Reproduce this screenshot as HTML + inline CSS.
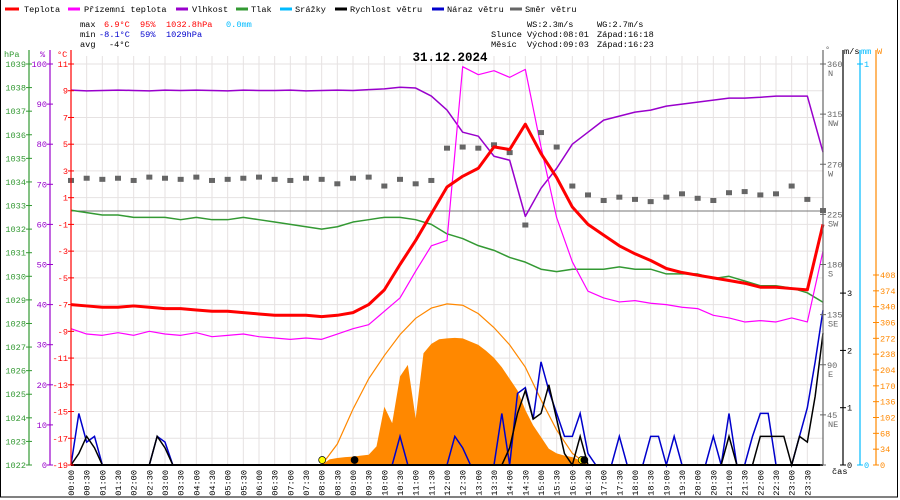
<!DOCTYPE html>
<html><head><meta charset="utf-8"><style>
html,body{margin:0;padding:0;background:#fff}
svg{display:block;font-family:"Liberation Mono",monospace}
</style></head><body>
<svg id="c" width="900" height="500" viewBox="0 0 900 500">
<rect x="0.5" y="-1" width="897" height="498" fill="#fff" stroke="#000"/>
<g id="grid"></g>
<g id="series"></g>
<g id="axes"></g>
<g font-size="8.6">
 <g><line x1="5" y1="9" x2="19" y2="9" stroke="#f00" stroke-width="3"/><text x="24" y="12">Teplota</text></g>
 <g><line x1="68" y1="9" x2="80" y2="9" stroke="#f0f" stroke-width="3"/><text x="84" y="12">Přízemní teplota</text></g>
 <g><line x1="176" y1="9" x2="188" y2="9" stroke="#90c" stroke-width="3"/><text x="192" y="12">Vlhkost</text></g>
 <g><line x1="236" y1="9" x2="248" y2="9" stroke="#393" stroke-width="3"/><text x="251" y="12">Tlak</text></g>
 <g><line x1="280" y1="9" x2="292" y2="9" stroke="#0bf" stroke-width="3"/><text x="295" y="12">Srážky</text></g>
 <g><line x1="335" y1="9" x2="347" y2="9" stroke="#000" stroke-width="3"/><text x="350" y="12">Rychlost větru</text></g>
 <g><line x1="432" y1="9" x2="444" y2="9" stroke="#00c" stroke-width="3"/><text x="447" y="12">Náraz větru</text></g>
 <g><line x1="510" y1="9" x2="522" y2="9" stroke="#666" stroke-width="3"/><text x="525" y="12">Směr větru</text></g>
</g>
<g font-size="8.6">
 <text x="80" y="27">max</text><text x="104" y="27" fill="#f00">6.9°C</text><text x="140" y="27" fill="#f00">95%</text><text x="166" y="27" fill="#f00">1032.8hPa</text><text x="226" y="27" fill="#0bf">0.0mm</text>
 <text x="80" y="37">min</text><text x="99" y="37" fill="#00c">-8.1°C</text><text x="140" y="37" fill="#00c">59%</text><text x="166" y="37" fill="#00c">1029hPa</text>
 <text x="80" y="47">avg</text><text x="109" y="47">-4°C</text>
 <text x="527" y="27">WS:2.3m/s</text><text x="597" y="27">WG:2.7m/s</text>
 <text x="491" y="37">Slunce</text><text x="527" y="37">Východ:08:01</text><text x="597" y="37">Západ:16:18</text>
 <text x="491" y="47">Měsíc</text><text x="527" y="47">Východ:09:03</text><text x="597" y="47">Západ:16:23</text>
</g>
<text x="450" y="61" font-size="12.5" font-weight="bold" text-anchor="middle">31.12.2024</text>
</svg>
<script>
// ---- data ----
const temp=[-7.0,-7.1,-7.2,-7.2,-7.1,-7.2,-7.3,-7.3,-7.4,-7.5,-7.5,-7.6,-7.7,-7.8,-7.8,-7.8,-7.9,-7.8,-7.6,-7.0,-5.9,-4.0,-2.2,-0.2,1.8,2.6,3.2,4.8,4.6,6.5,4.3,2.5,0.3,-1.0,-1.8,-2.6,-3.2,-3.7,-4.3,-4.6,-4.8,-5.0,-5.2,-5.4,-5.7,-5.7,-5.8,-5.9,-1.0];
const feel=[-8.8,-9.2,-9.3,-9.1,-9.3,-9.0,-9.2,-9.3,-9.1,-9.4,-9.3,-9.2,-9.4,-9.5,-9.6,-9.5,-9.6,-9.2,-8.8,-8.5,-7.5,-6.5,-4.5,-2.6,-2.2,10.8,10.2,10.5,10.0,10.6,4.8,-0.5,-3.8,-6.0,-6.5,-6.8,-6.7,-6.9,-7.0,-7.2,-7.3,-7.8,-8.0,-8.3,-8.2,-8.3,-8.0,-8.3,-3.0];
const humid=[93.5,93.3,93.4,93.5,93.4,93.3,93.5,93.4,93.5,93.4,93.3,93.5,93.4,93.4,93.5,93.3,93.4,93.5,93.4,93.6,93.8,94.2,94.0,92,88.5,83,82,77,76,62,69,74,80,83,86,87,88,88.5,89.5,90,90.5,91,91.5,91.5,91.7,92,92,92,78];
const press=[1032.8,1032.7,1032.6,1032.6,1032.5,1032.5,1032.5,1032.4,1032.5,1032.4,1032.4,1032.5,1032.4,1032.3,1032.2,1032.1,1032.0,1032.1,1032.3,1032.4,1032.5,1032.5,1032.4,1032.2,1031.8,1031.6,1031.3,1031.1,1030.8,1030.6,1030.3,1030.2,1030.3,1030.3,1030.3,1030.4,1030.3,1030.3,1030.1,1030.1,1030.1,1029.9,1030.0,1029.8,1029.6,1029.6,1029.5,1029.3,1028.9];
const windDir=[255,257,256,257,255,258,257,256,258,255,256,257,258,256,255,257,256,252,257,258,250,256,252,255,284,285,284,287,280,215,298,285,250,242,237,240,238,236,240,243,239,237,244,245,242,243,250,238,228];
const gust=[0,0.9,0.4,0.5,0,0,0,0,0,0,0,0.5,0.4,0,0,0,0,0,0,0,0,0,0,0,0,0,0,0,0,0,0,0,0,0,0,0,0,0,0,0,0,0,0.5,0,0,0,0,0,0,0.5,0.3,0,0,0,0,0.9,0,1.25,1.35,0.8,1.8,1.3,0.9,0.5,0.5,0.9,0.2,0,0,0,0.5,0,0,0,0.5,0.5,0,0.5,0,0,0,0,0.5,0,0.9,0,0,0.5,0.9,0.9,0,0,0,0.5,1.0,1.8,2.7];
const speed=[0,0.2,0.5,0.3,0,0,0,0,0,0,0,0.5,0.3,0,0,0,0,0,0,0,0,0,0,0,0,0,0,0,0,0,0,0,0,0,0,0,0,0,0,0,0,0,0,0,0,0,0,0,0,0,0,0,0,0,0,0,0.3,0.9,1.3,0.8,0.9,1.4,0.8,0.2,0,0.5,0,0,0,0,0,0,0,0,0,0,0,0,0,0,0,0,0,0,0.5,0,0,0,0.5,0.5,0.5,0.5,0,0.5,0.4,1.2,2.3];
const solar=[0,12,15,17,18,20,22,40,125,90,190,215,100,240,260,270,272,273,272,265,258,245,230,210,185,160,118,85,60,35,25,20,17,10,0];
const clearSky=[0,45,120,185,235,280,315,337,346,343,325,295,258,210,140,75,25,0];
const pressTicks=[1022,1023,1024,1025,1026,1027,1028,1029,1030,1031,1032,1033,1034,1035,1036,1037,1038,1039];
const humTicks=[0,10,20,30,40,50,60,70,80,90,100];
const tempTicks=[-19,-17,-15,-13,-11,-9,-7,-5,-3,-1,1,3,5,7,9,11];
const dirTicks=[0,45,90,135,180,225,270,315,360];
const dirNames=["","NE","E","SE","S","SW","W","NW","N"];
const msTicks=[0,1,2,3];
const wTicks=[0,34,68,102,136,170,204,238,272,306,340,374,408];
// ---- scales ----
const X0=71,X1=823,Y0=465,YT=64;
const xh=h=>X0+h*(X1-X0)/24;
const yT=v=>Y0-(v+19)*(Y0-YT)/30;
const yH=v=>Y0-v*(Y0-YT)/100;
const yP=v=>Y0-(v-1022)*(Y0-YT)/17;
const yD=v=>Y0-v*(Y0-YT)/360;
const yM=v=>Y0-v*57.3;
const yW=v=>Y0-v*(Y0-275)/408;
const NS="http://www.w3.org/2000/svg";
function mk(p,tag,at){const e=document.createElementNS(NS,tag);for(const k in at)e.setAttribute(k,at[k]);p.appendChild(e);return e;}
const G=document.getElementById('grid'),S=document.getElementById('series'),A=document.getElementById('axes');
// grid
for(let k=0;k<=48;k++){const l=mk(G,'line',{x1:xh(k/2),x2:xh(k/2),y1:YT-8,y2:Y0,stroke:'#e6e2e2'});

}
tempTicks.forEach(t=>{const l=mk(G,'line',{x1:X0,x2:X1,y1:yT(t),y2:yT(t),stroke:'#e6e2e2'});

});
const z=mk(G,'line',{x1:X0,x2:X1,y1:yT(0),y2:yT(0),stroke:'#777'});


// solar fill
let sp=`M${xh(8)},${Y0} `;solar.forEach((v,i)=>{sp+=`L${xh(8+i/4)},${yW(v)} `;});sp+=`L${xh(8+(solar.length-1)/4)},${Y0} Z`;
const sf=mk(S,'path',{d:sp,fill:'#f80'});


const cs=mk(S,'polyline',{points:clearSky.map((v,i)=>xh(8+i/2)+','+yW(v)).join(' '),fill:'none',stroke:'#f80','stroke-width':1.2});


// half-hour lines
function line(arr,yf,col,w,name){const p=mk(S,'polyline',{points:arr.map((v,i)=>xh(i/2)+','+yf(v)).join(' '),fill:'none',stroke:col,'stroke-width':w,'stroke-linejoin':'round'});

}
line(press,yP,'#393',1.5,'pressure-line');
line(humid,yH,'#90c',1.5,'humidity-line');
line(feel,yT,'#f0f',1.2,'apparent-temperature-line');
windDir.forEach((v,i)=>{const r=mk(S,'rect',{x:xh(i/2)-3,y:yD(v)-3,width:6,height:5,fill:'#666'});

});
line(temp,yT,'#f00',3,'temperature-line');
// wind lines (spiky)
function wl(arr,col,name){const p=mk(S,'polyline',{points:arr.map((v,i)=>xh(i/4)+','+yM(v)).join(' '),fill:'none',stroke:col,'stroke-width':1.5});

}
wl(gust,'#00c','wind-gust-line');
wl(speed,'#000','wind-speed-line');
const bl=mk(S,'line',{x1:X0,x2:X1,y1:Y0,y2:Y0,stroke:'#000','stroke-width':2});


// sun / moon markers
[[8+1/60,'#ff0'],[9+3/60,'#000'],[16+18/60,'#ff0'],[16+23/60,'#000']].forEach(m=>{const c=mk(S,'circle',{cx:xh(m[0]),cy:Y0-5,r:3.5,fill:m[1],stroke:'#000','stroke-width':0.7});

});
// axes
function axis(x,col,ticks,yf,lab,anchorRight,name){const g=mk(A,'g',{fill:col,'font-size':8.6});


mk(g,'line',{x1:x,x2:x,y1:YT-14,y2:Y0,stroke:col,'stroke-width':1.2});
ticks.forEach((t,i)=>{const y=yf(t);mk(g,'line',{x1:x-3,x2:x+3,y1:y,y2:y,stroke:col});
const tx=mk(g,'text',{x:anchorRight?x-3:x+4,y:y+3,'text-anchor':anchorRight?'end':'start'});tx.textContent=lab?lab(t,i):t;});return g;}
axis(29,'#393',pressTicks,yP,null,true,'pressure-axis');
axis(50,'#90c',humTicks,yH,null,true,'humidity-axis');
axis(71,'#f00',tempTicks,yT,null,true,'temperature-axis');
const dg=axis(823,'#666',dirTicks,yD,t=>t===0?'':t,false,'wind-direction-axis');
dirTicks.forEach((t,i)=>{const tx=mk(dg,'text',{x:828,y:yD(t)+12});tx.textContent=dirNames[i];});
axis(843,'#000',msTicks,yM,null,false,'wind-speed-axis');
axis(860,'#0bf',[0,1],v=>Y0-v*(Y0-YT),null,false,'precipitation-axis');
axis(876,'#f80',wTicks,yW,null,false,'radiation-axis');
[['hPa',4,57,'#393'],['%',40,57,'#90c'],['°C',57,57,'#f00'],['°',825,52,'#666'],['m/s',844,54,'#000'],['mm',861,54,'#0bf'],['W',877,54,'#f80'],['čas',832,474,'#000']].forEach(u=>{const t=mk(A,'text',{x:u[1],y:u[2],fill:u[3],'font-size':8.6});t.textContent=u[0];

});
// x labels
for(let k=0;k<48;k++){const h=Math.floor(k/2),m=k%2?'30':'00';const x=xh(k/2)+3;
const t=mk(A,'text',{x:x,y:470,'font-size':8.6,'text-anchor':'end',transform:`rotate(-90 ${x} 470)`});t.textContent=(h<10?'0':'')+h+':'+m;

}
</script>
</body></html>
